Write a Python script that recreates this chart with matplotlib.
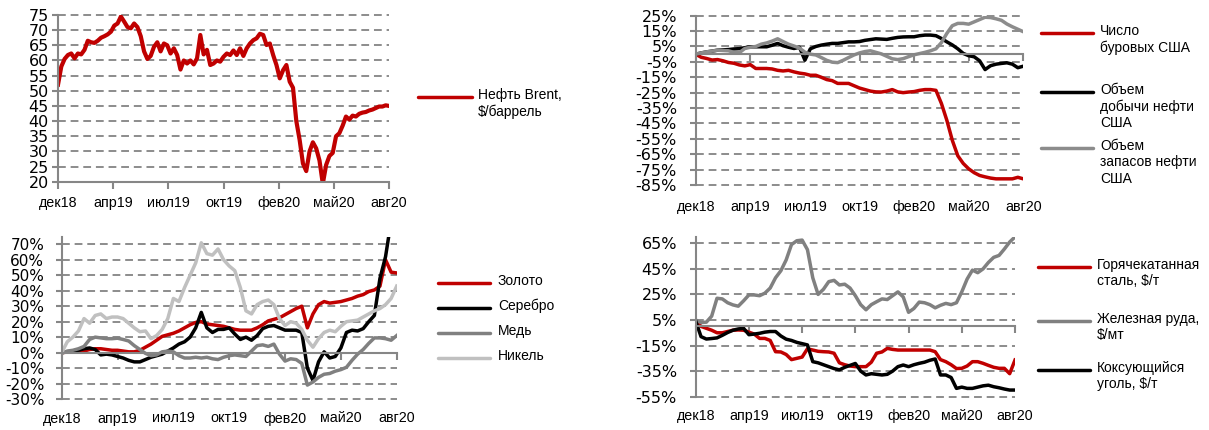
import numpy as np
import matplotlib
matplotlib.use('Agg')
import matplotlib.pyplot as plt
from matplotlib.lines import Line2D
from matplotlib.ticker import FuncFormatter

plt.rcParams['font.family'] = ['Liberation Sans', 'DejaVu Sans']
plt.rcParams['font.size'] = 10

RED = '#C00000'
BLACK = '#000000'
GREY = '#808080'
SILVER = '#C0C0C0'
AXC = '#868686'
GRIDC = '#8C8C8C'

x_labels = ['дек18', 'апр19', 'июл19', 'окт19', 'фев20', 'май20', 'авг20']

# ---- Panel 1: Brent, $/bbl
brent = [52, 58, 60.5, 61.8, 62.3, 60.7, 62.3, 62, 63.5, 66.5,
         66, 65.8, 66.5, 67.5, 68, 68.6, 69.5, 71.5, 72.2, 74.5,
         72.8, 71, 70.6, 72.2, 71, 68, 63, 60.5, 61.5, 64.5,
         66, 63, 65.6, 65, 62.3, 64, 61.8, 57, 60, 59,
         60, 58.7, 60.7, 68.4, 62, 63.5, 58.5, 59, 60, 59.6,
         61.2, 62.3, 61.8, 63.3, 61.8, 64, 61.5, 64, 65.6, 66.7,
         67.3, 68.8, 68.4, 65.1, 65.6, 61.8, 58.5, 54.1, 56.8, 58.5,
         53, 51, 40, 33.8, 26, 23.5, 30, 33, 31, 27,
         19.3, 25.5, 28.5, 29.5, 35, 36, 38.5, 41.5, 40.5, 41.8,
         41.5, 42.4, 42.8, 43, 43.5, 43.8, 44.3, 44.8, 44.8, 45.2, 45]

# ---- Panel 2: metals, % change
gold = [0, 0.3, 0.5, 1, 1, 2, 2.5, 2.5, 2, 1.5,
        1.5, 1, 0.5, 0.5, 1.5, 3.5, 5.5, 8, 10.5, 11.5,
        12.5, 14, 16, 18, 19.5, 20, 18.5, 18, 17.5, 17,
        16, 15, 14.5, 14.5, 14.5, 16, 18, 20.5, 21.5, 22.5,
        24.5, 26.5, 28.5, 30, 16, 25, 31, 33, 32, 32.5,
        33, 34, 35, 36.5, 37.5, 39.5, 40.5, 43, 60, 52, 51.5]
silver = [0, 0.5, 1, 1.5, 2.5, 3, 2, -1.5, -1, -1.5,
          -2.5, -3.5, -5, -6, -6, -4.5, -3, -2, -1, 1,
          3, 5.5, 7, 10, 16, 26, 16, 13, 15, 15,
          16, 12, 8.5, 10, 8, 11, 15.5, 17, 17.5, 16,
          14.5, 14.5, 14.5, 13, -10, -18, -6, 0.5, -3.5, -2.5,
          3, 13, 14.5, 14, 15.5, 20, 24, 48, 62, 85, 82]
copper = [-0.5, 1, 1.5, 2.5, 4, 8.5, 10, 9.5, 9, 9,
          9.3, 8.5, 7.5, 4.5, 2, -0.5, -2, -1.5, 0.5, 1,
          0.5, -2, -3.5, -3.5, -3, -3.5, -3, -4, -4.5, -3,
          -2, -1.5, -2, -2.5, 1, 4.5, 5, 4, 5.5, -1,
          -5.5, -4, -4.5, -7, -21, -19, -16, -14, -13.5, -12,
          -11, -9.5, -5, -1, 2, 6, 9.5, 9.5, 9, 8, 11]
nickel = [0, 7, 10, 14, 22, 19, 24, 25, 22, 23,
          23, 22, 19, 16, 13.5, 14, 9, 11, 15, 22,
          35, 33, 42, 50, 58, 71, 64, 63, 67, 60,
          56, 53, 42, 27, 25, 31, 33, 34, 31, 22,
          17.5, 20, 19, 15, 8, 3.5, 9, 13, 14.5, 13.5,
          17, 20, 20.5, 21, 23, 25, 27, 28.5, 31, 35, 43]

# ---- Panel 3: US oil, % change
rigs = [0, -2, -2.8, -3.8, -3.5, -4.3, -5.4, -5.9, -7, -7.6,
        -6.8, -9.3, -9.3, -9.3, -9.6, -10.5, -10.9, -10.5, -11.5, -12.3,
        -12.8, -13.7, -13.7, -15, -16.5, -17.2, -19, -19, -19, -20.5,
        -22, -23, -24, -24.5, -24.6, -24, -23, -24.5, -25, -24.6,
        -24.3, -23.5, -23, -23, -23.5, -32, -43, -56, -66, -71,
        -74.5, -77, -78.8, -79.7, -80.5, -81, -81, -81, -81, -80, -81]
production = [0, 0.8, 1.5, 2, 2.6, 2.8, 3, 3.4, 3.6, 4.2,
              4.8, 4.8, 4.8, 4.8, 5.8, 7, 5.5, 4.5, 3.7, 4.5,
              -3.9, 3.5, 5, 5.9, 6.5, 7, 7, 7.5, 8, 8,
              8.2, 9, 9.5, 10, 9.8, 9.6, 10.3, 10.9, 11.2, 11.3,
              11.3, 12, 12.4, 12.4, 12, 10.2, 8, 6, 3.5, 0.5,
              -1, -1.7, -4.3, -10, -7.5, -6.5, -6, -5.6, -6.5, -8.8, -7.8]
stocks = [0, 0.8, 1.5, 2, 2.6, 2.4, 2.2, 1.2, 1, 3.7,
          4.5, 5, 6.5, 7.3, 8.5, 10, 8.2, 6.5, 5.3, 4,
          1.3, 0, -0.5, -2.2, -4, -5.2, -5.5, -4, -2.2, -0.5,
          0.8, 1.7, 2.2, 1.2, 0.2, -1.4, -3, -3.5, -2.9, -1.6,
          -0.4, 0.4, 1.2, 2.2, 3.5, 7.5, 13.5, 18.5, 20, 20,
          19.5, 21, 22.5, 24, 23.8, 23, 22, 19.6, 17.8, 16.2, 14.6]

# ---- Panel 4: steel & raw materials, % change
hrc = [4.2, 0, -1.5, -3, -5, -5, -4, -3, -2.8, -3,
       -4.5, -6, -9.4, -9.4, -11, -19.8, -20, -22, -26, -25,
       -24, -17.5, -18.5, -19.5, -19.8, -20, -21, -28.5, -30, -31,
       -31.5, -31.5, -31.5, -28, -21, -20, -17.2, -18, -18.5, -18.5,
       -18.5, -18.5, -18.5, -18.5, -18.5, -19.8, -26, -27.6, -30, -33,
       -32.8, -31, -27.6, -27.6, -28.9, -30.5, -32, -32.8, -32.8, -37, -26.3]
iron_ore = [5, 3, 3.3, 8, 22, 21.5, 18.5, 16.8, 15.8, 20,
            24.6, 24.6, 24, 26, 30, 38, 43.5, 52, 64, 67,
            67.5, 60, 38, 25, 29, 35, 36, 32.4, 33, 30,
            24, 17, 13, 17, 19.3, 21.5, 21, 24, 27, 23,
            11, 14, 19, 18.5, 17, 14.5, 16.5, 18, 17, 18.5,
            27, 37, 44, 42, 45, 50, 54, 55.5, 60.5, 66, 70]
coal = [4.2, -8, -9.9, -9.5, -9, -7, -4.8, -3, -2, -1.5,
        -6.5, -6, -5.4, -4.5, -4, -4, -7.5, -10, -11, -12.5,
        -13.5, -14.5, -27.6, -28.5, -30, -31.5, -33, -34, -32, -30.5,
        -29, -35, -38, -37, -37.5, -38, -37.5, -35, -31.5, -30.2,
        -31.5, -30, -28.9, -28, -26.5, -25.5, -38, -38, -40, -48.5,
        -47.5, -48.5, -48.5, -47.5, -46.5, -46, -47.2, -48, -49, -49.8, -49.8]

W, H = 1209, 430
fig = plt.figure(figsize=(W / 100, H / 100), dpi=100)


def px_axes(x0, y0, x1, y1):
    return fig.add_axes([x0 / W, 1 - y1 / H, (x1 - x0) / W, (y1 - y0) / H])


pct = FuncFormatter(lambda v, p: f'{v:.0f}%')
num = FuncFormatter(lambda v, p: f'{v:.0f}')
LW = 2.5


def style(ax, n, ylim, yticks, fmt, zero_axis, ypad, xpad, ysize=11):
    ax.set_xlim(0, n - 1)
    ax.set_ylim(*ylim)
    ax.set_yticks(yticks)
    ax.yaxis.set_major_formatter(fmt)
    ax.grid(axis='y', color=GRIDC, linestyle=(0, (4, 2.5)), linewidth=1.4)
    ax.set_axisbelow(True)
    for gl in ax.get_ygridlines():
        gl.set_clip_on(False)
    for s in ['top', 'right']:
        ax.spines[s].set_visible(False)
    ax.spines['left'].set_color(AXC)
    ax.spines['left'].set_linewidth(1.5)
    ax.spines['bottom'].set_color(AXC)
    ax.spines['bottom'].set_linewidth(1.5)
    ax.tick_params(axis='y', length=4, width=1.5, color=AXC, pad=ypad,
                   labelsize=ysize, labelcolor='black',
                   labelfontfamily='DejaVu Sans')
    xt = np.linspace(0, n - 1, len(x_labels))
    ax.set_xticks(xt)
    if zero_axis:
        ax.spines['bottom'].set_position(('data', 0))
        ax.tick_params(axis='x', length=5, width=1.5, color=AXC, labelbottom=False)
        sec = ax.secondary_xaxis(0)
        sec.set_xticks(xt, x_labels)
        sec.spines['bottom'].set_visible(False)
        sec.tick_params(length=0, pad=xpad, labelsize=10.3)
    else:
        ax.set_xticklabels(x_labels)
        ax.tick_params(axis='x', length=5, width=1.5, color=AXC, pad=xpad,
                       labelsize=10.3)


def legend(lines, labels, ys, x0, x1, tx):
    for ln, lab, y in zip(lines, labels, ys):
        fig.add_artist(Line2D([x0 / W, x1 / W], [1 - y / H, 1 - y / H],
                              transform=fig.transFigure, color=ln.get_color(),
                              linewidth=LW, solid_capstyle='round'))
        fig.text(tx / W, 1 - (y - 9) / H, lab, ha='left', va='top',
                 fontsize=10, linespacing=1.22)


# Panel 1
ax1 = px_axes(58, 15, 389, 181.7)
l1, = ax1.plot(np.arange(len(brent)), brent, color=RED, lw=LW + 0.5)
style(ax1, len(brent), (20, 75), np.arange(20, 76, 5), num, False, 2.5, 5, ysize=11.5)
legend([l1], ['Нефть Brent,\n$/баррель'], [97], 418, 472, 478)

# Panel 2
ax2 = px_axes(61.7, 236.6, 396.7, 399)
n2 = len(gold)
lg, = ax2.plot(np.arange(n2), gold, color=RED, lw=LW)
ls, = ax2.plot(np.arange(n2), silver, color=BLACK, lw=LW)
lc, = ax2.plot(np.arange(n2), copper, color=GREY, lw=LW)
ln_, = ax2.plot(np.arange(n2), nickel, color=SILVER, lw=LW)
style(ax2, n2, (-30, 75), np.arange(-30, 71, 10), pct, True, 8.5, 9)
legend([lg, ls, lc, ln_], ['Золото', 'Серебро', 'Медь', 'Никель'],
       [283, 308, 333, 358], 438, 490, 498)

# Panel 3
ax3 = px_axes(695.7, 15.7, 1023.3, 185)
n3 = len(rigs)
lr, = ax3.plot(np.arange(n3), rigs, color=RED, lw=LW)
lp, = ax3.plot(np.arange(n3), production, color=BLACK, lw=LW)
lst, = ax3.plot(np.arange(n3), stocks, color='#8C8C8C', lw=LW)
style(ax3, n3, (-85, 25), np.arange(-85, 26, 10), pct, True, 9.5, 11, ysize=11.5)
legend([lr, lp, lst], ['Число\nбуровых США', 'Объем\nдобычи нефти\nСША',
                       'Объем\nзапасов нефти\nСША'],
       [33, 92, 148], 1041, 1093, 1100)

# Panel 4
ax4 = px_axes(695.7, 236.9, 1015, 396.7)
n4 = len(hrc)
lh, = ax4.plot(np.arange(n4), hrc, color=RED, lw=LW)
li, = ax4.plot(np.arange(n4), iron_ore, color=GREY, lw=LW)
lk, = ax4.plot(np.arange(n4), coal, color=BLACK, lw=LW)
style(ax4, n4, (-55, 70), np.arange(-55, 66, 20), pct, True, 9.5, 9, ysize=11.5)
legend([lh, li, lk], ['Горячекатанная\nсталь, $/т', 'Железная руда,\n$/мт',
                      'Коксующийся\nуголь, $/т'],
       [267, 321, 370], 1038, 1090, 1097)

fig.savefig('out.png', dpi=100)
